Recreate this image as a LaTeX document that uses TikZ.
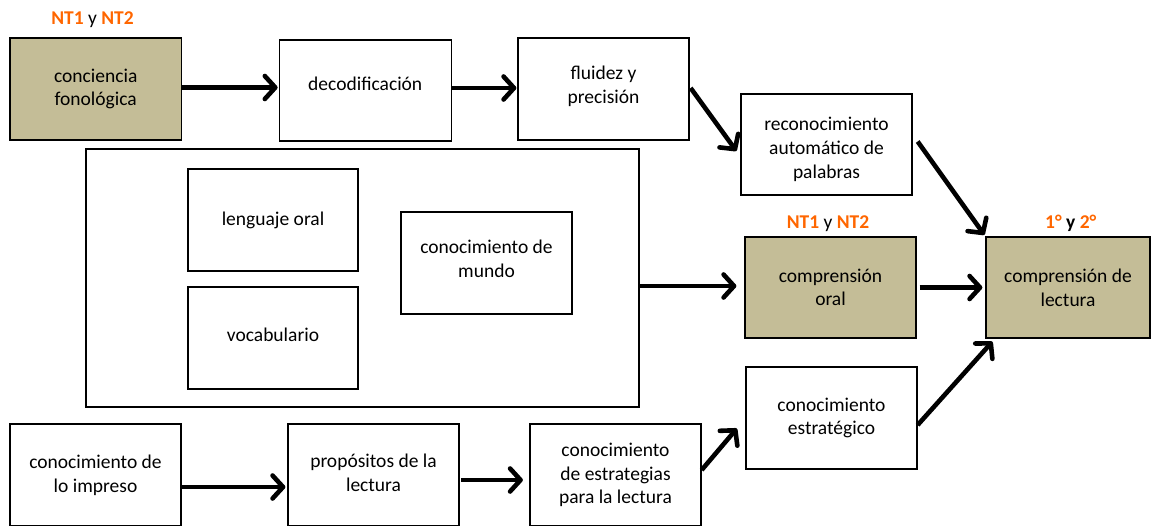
\documentclass[tikz,border=0pt]{standalone}
\usepackage{fontspec}
\setmainfont{Carlito}
\usetikzlibrary{arrows.meta}
\definecolor{tanfill}{HTML}{C4BD97}
\definecolor{orng}{HTML}{FF6600}
\begin{document}
\begin{tikzpicture}[x=1pt,y=-1pt,
  box/.style={draw=black, line width=1.3pt, inner sep=0pt},
  tanbox/.style={box, fill=tanfill},
  txt/.style={align=center, inner sep=0pt, font=\fontsize{19.5}{23.7}\selectfont},
  arr/.style={line width=4.6pt, -{Straight Barb[length=10.5pt,width=23pt,round]}},
  lbl/.style={font=\fontsize{19.5}{23.7}\selectfont\bfseries, inner sep=0pt, anchor=base}]
\useasboundingbox (0,0) rectangle (1151,525);

\node[tanbox, minimum width=171.5pt, minimum height=102pt,
  label={[txt]center:{conciencia\\fonológica}}] (conc) at (95.75,89) {};
\node[box, minimum width=172pt, minimum height=101pt,
  label={[txt,yshift=6.5pt]center:decodificación}] (deco) at (365.25,90.5) {};
\node[box, minimum width=171pt, minimum height=102pt,
  label={[txt,yshift=3pt]center:{fluidez y\\precisión}}] (flu) at (603.5,89) {};
\node[box, minimum width=171pt, minimum height=101pt,
  label={[txt,yshift=-5pt]center:{reconocimiento\\automático de\\palabras}}] (rec) at (826.5,144.5) {};
\node[box, minimum width=553pt, minimum height=258pt] (big) at (362.5,278) {};
\node[box, minimum width=170pt, minimum height=102pt,
  label={[txt]center:lenguaje oral}] (leng) at (273,220) {};
\node[box, minimum width=170pt, minimum height=102pt,
  label={[txt,yshift=3pt]center:vocabulario}] (voc) at (273,338) {};
\node[box, minimum width=171pt, minimum height=102pt,
  label={[txt,yshift=4pt]center:{conocimiento de\\mundo}}] (mundo) at (486.5,263) {};
\node[tanbox, minimum width=171pt, minimum height=101pt,
  label={[txt]center:{comprensión\\oral}}] (oral) at (830.5,287.5) {};
\node[tanbox, minimum width=164pt, minimum height=101pt,
  label={[txt]center:{comprensión de\\lectura}}] (lect) at (1068,287.5) {};
\node[box, minimum width=171pt, minimum height=102pt,
  label={[txt]center:{conocimiento\\estratégico}}] (estr) at (831.5,418) {};
\node[box, minimum width=171pt, minimum height=102pt,
  label={[txt]center:{conocimiento de\\lo impreso}}] (impr) at (95.5,475) {};
\node[box, minimum width=171pt, minimum height=102pt,
  label={[txt,yshift=2pt]center:{propósitos de la\\lectura}}] (prop) at (373.5,475) {};
\node[box, minimum width=171pt, minimum height=102pt,
  label={[txt]center:{conocimiento\\de estrategias\\para la lectura}}] (estrat) at (615.5,475) {};

\node[lbl] (l1) at (92.5,24) {\textcolor{orng}{NT1} \mdseries y \bfseries\textcolor{orng}{NT2}};
\node[lbl] (l2) at (828,228.3) {\textcolor{orng}{NT1} \mdseries y \bfseries\textcolor{orng}{NT2}};
\node[lbl] (l3) at (1070.8,228.3) {\textcolor{orng}{1°} y \textcolor{orng}{2°}};

\draw[arr] ([yshift=1.5pt]conc.east) -- ([xshift=-1pt,yshift=3pt]deco.west);
\draw[arr] ([yshift=2.5pt]deco.east) -- ([xshift=-1pt,yshift=1pt]flu.west);
\draw[arr] ([xshift=1pt,yshift=1pt]flu.east) -- ([xshift=-4pt,yshift=-6.5pt]rec.west);
\draw[arr] ([xshift=5pt,yshift=3pt]rec.east) -- ([xshift=-1pt,yshift=1.5pt]lect.north west);
\draw[arr] ([yshift=-8pt]big.east) -- ([xshift=-8pt,yshift=1.5pt]oral.west);
\draw[arr] ([xshift=3pt]oral.east) -- ([xshift=-3pt]lect.west);
\draw[arr] ([yshift=-7pt]estr.east) -- ([xshift=7pt,yshift=-3pt]lect.south west);
\draw[arr] ([yshift=-12pt]impr.east) -- ([xshift=-2pt,yshift=-12pt]prop.west);
\draw[arr] ([xshift=1.5pt,yshift=-5pt]prop.east) -- ([xshift=-6.5pt,yshift=-5pt]estrat.west);
\draw[arr] ([yshift=5pt]estrat.east) -- ([xshift=-8.5pt,yshift=-10.5pt]estr.west);
\end{tikzpicture}
\end{document}
